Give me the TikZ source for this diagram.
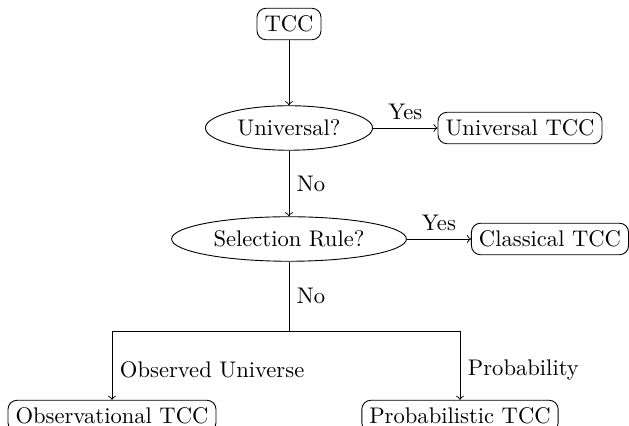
\documentclass[tikz,border=0pt]{standalone}
\usetikzlibrary{shapes.geometric}
\begin{document}
\begin{tikzpicture}[x=0.4425pt,y=-0.4425pt,
  box/.style={draw,rounded corners=4pt,inner sep=3.33pt},
  dec/.style={draw,ellipse,inner sep=3.33pt},
  arr/.style={->}]
\useasboundingbox (0,0) rectangle (629,426);
\node[box] (tcc) at (289,24) {TCC};
\node[dec] (uni) at (289,128) {Universal?};
\node[box] (utcc) at (520,128) {Universal TCC};
\node[dec] (sel) at (289,239) {Selection Rule?};
\node[box] (ctcc) at (550,239) {Classical TCC};
\coordinate (j) at (289,331);
\node[box] (obs) at (112,416) {Observational TCC};
\node[box] (prob) at (460,416) {Probabilistic TCC};
\draw[arr] (tcc) -- (uni);
\draw[arr] (uni) -- node[above]{Yes} (utcc);
\draw[arr] (uni) -- node[right]{No} (sel);
\draw[arr] (sel) -- node[above]{Yes} (ctcc);
\draw (sel) -- node[right]{No} (j);
\draw[arr] (j) -| node[pos=0.78,right]{Observed Universe} (obs);
\draw[arr] (j) -| node[pos=0.78,right]{Probability} (prob);
\end{tikzpicture}
\end{document}
